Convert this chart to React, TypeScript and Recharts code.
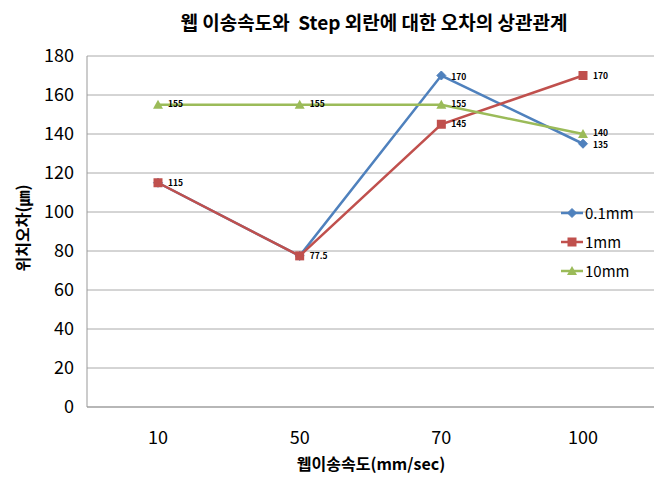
import React from 'react';
import { LineChart, Line, XAxis, YAxis, CartesianGrid, LabelList } from 'recharts';

const categories = ['10', '50', '70', '100'];
const series01 = [115, 77.5, 170, 135];
const series1 = [115, 77.5, 145, 170];
const series10 = [155, 155, 155, 140];
const yTicks = [0, 20, 40, 60, 80, 100, 120, 140, 160, 180];
const seriesNames = ['0.1mm', '1mm', '10mm'];
const colors = ['#4f81bd', '#c0504d', '#9bbb59'];
const hiddenLabels01 = [0, 1];

const data = categories.map((c, i) => ({
  cat: c,
  s01: series01[i],
  s1: series1[i],
  s10: series10[i],
}));

const FONT = '"Noto Sans CJK KR", "Liberation Sans", sans-serif';

const Diamond = (props: any) => {
  const { cx, cy, fill } = props;
  if (cx == null || cy == null) return null;
  const r = 4.5;
  return <path d={`M${cx},${cy - r}L${cx + r},${cy}L${cx},${cy + r}L${cx - r},${cy}Z`} fill={fill} stroke={fill} />;
};
const Square = (props: any) => {
  const { cx, cy, fill } = props;
  if (cx == null || cy == null) return null;
  const r = 4.5;
  return <rect x={cx - r} y={cy - r} width={2 * r} height={2 * r} fill={fill} />;
};
const Triangle = (props: any) => {
  const { cx, cy, fill } = props;
  if (cx == null || cy == null) return null;
  const r = 5;
  return <path d={`M${cx},${cy - r}L${cx + r},${cy + r * 0.8}L${cx - r},${cy + r * 0.8}Z`} fill={fill} />;
};

const makeLabel = (hidden: number[], shift: number) => (props: any) => {
  const { x, y, value, index } = props;
  if (hidden.includes(index)) return null;
  return (
    <text x={x + 10} y={y} dy={3 + shift} fontSize={8.5} fontWeight="bold" fill="#000" fontFamily={FONT}>
      {value}
    </text>
  );
};

const LegendBox = () => {
  const shapes = [Diamond, Square, Triangle];
  return (
    <div style={{ position: 'absolute', left: 560, top: 198, fontFamily: FONT, fontSize: 15, color: '#000' }}>
      {seriesNames.map((n, i) => {
        const S = shapes[i];
        return (
          <div key={n} style={{ display: 'flex', alignItems: 'center', height: 29 }}>
            <svg width={24} height={14}>
              <line x1={1} y1={7} x2={23} y2={7} stroke={colors[i]} strokeWidth={2.5} />
              <S cx={12} cy={7} fill={colors[i]} />
            </svg>
            <span style={{ marginLeft: 1 }}>{n}</span>
          </div>
        );
      })}
    </div>
  );
};

export default function App() {
  return (
    <div style={{ position: 'absolute', left: 0, top: 0, width: 666, height: 477, background: '#fff', fontFamily: FONT }}>
      <div style={{ position: 'absolute', left: 0, width: 748, top: 8, textAlign: 'center', fontSize: 19, fontWeight: 'bold' }}>
        웹 이송속도와&nbsp;&nbsp;Step 외란에 대한 오차의 상관관계
      </div>
      <div style={{ position: 'absolute', left: 0, width: 742, top: 451, textAlign: 'center', fontSize: 16, fontWeight: 'bold' }}>
        웹이송속도(mm/sec)
      </div>
      <div style={{ position: 'absolute', left: 22, top: 228, width: 0, height: 0 }}>
        <div style={{ position: 'absolute', transform: 'translate(-50%, -50%) rotate(-90deg)', whiteSpace: 'nowrap', fontSize: 16, fontWeight: 'bold' }}>
          위치오차(㎛)
        </div>
      </div>
      <LineChart
        width={666}
        height={477}
        data={data}
        margin={{ top: 56, right: 12, bottom: 30, left: 27 }}
      >
        <CartesianGrid vertical={false} stroke="#aaaaaa" />
        <XAxis
          dataKey="cat"
          height={40}
          padding={{ left: 71, right: 71 }}
          tickLine={false}
          axisLine={{ stroke: '#999999' }}
          tickMargin={18}
          tick={{ fontSize: 18, fill: '#000', fontFamily: FONT }}
        />
        <YAxis
          width={60}
          domain={[0, 180]}
          ticks={yTicks}
          interval={0}
          tickLine={false}
          axisLine={{ stroke: '#999999' }}
          tickMargin={7}
          tick={{ fontSize: 18, fill: '#000', fontFamily: FONT }}
        />
        <YAxis
          yAxisId="r"
          orientation="right"
          width={0}
          tick={false}
          tickLine={false}
          domain={[0, 180]}
          axisLine={{ stroke: '#999999' }}
        />
        <Line
          name={seriesNames[0]}
          dataKey="s01"
          stroke={colors[0]}
          strokeWidth={2.5}
          dot={<Diamond fill={colors[0]} />}
          isAnimationActive={false}
        >
          <LabelList dataKey="s01" content={makeLabel(hiddenLabels01, 1)} />
        </Line>
        <Line
          name={seriesNames[1]}
          dataKey="s1"
          stroke={colors[1]}
          strokeWidth={2.5}
          dot={<Square fill={colors[1]} />}
          isAnimationActive={false}
        >
          <LabelList dataKey="s1" content={makeLabel([], 0)} />
        </Line>
        <Line
          name={seriesNames[2]}
          dataKey="s10"
          stroke={colors[2]}
          strokeWidth={2.5}
          dot={<Triangle fill={colors[2]} />}
          isAnimationActive={false}
        >
          <LabelList dataKey="s10" content={makeLabel([], -1)} />
        </Line>
      </LineChart>
      <LegendBox />
    </div>
  );
}
